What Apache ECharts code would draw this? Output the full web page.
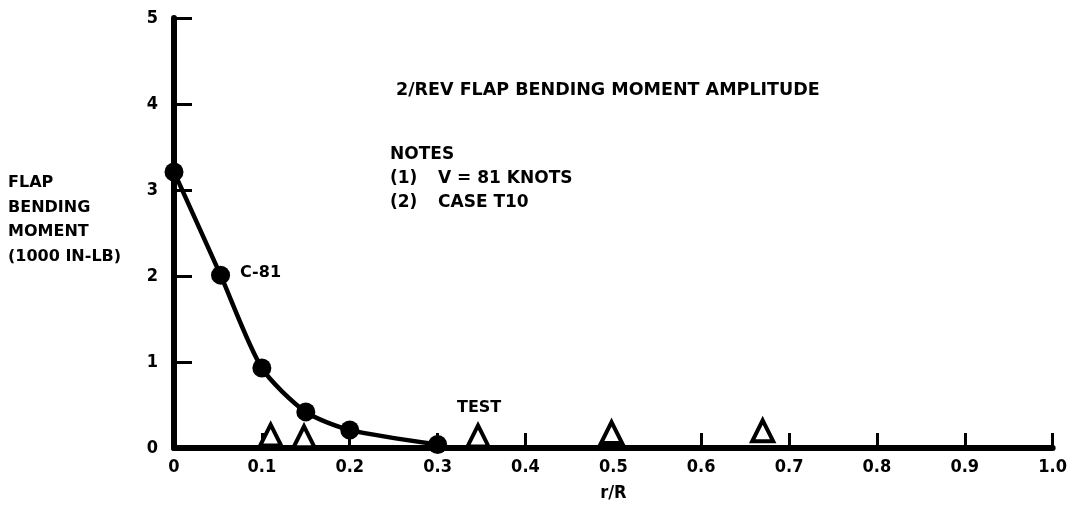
<!DOCTYPE html>
<html><head><meta charset="utf-8">
<script src="https://cdn.jsdelivr.net/npm/echarts@6/dist/echarts.min.js"></script>
<style>html,body{margin:0;padding:0;background:#fff}#c{width:1070px;height:511px}</style>
</head><body><div id="c"></div>
<script>
var xTicks = [0, 0.1, 0.2, 0.3, 0.4, 0.5, 0.6, 0.7, 0.8, 0.9, 1.0];
var yTicks = [0, 1, 2, 3, 4, 5];
var c81X = [0, 0.053, 0.1, 0.15, 0.2, 0.3];
var c81Y = [3.21, 2.01, 0.93, 0.42, 0.21, 0.04];
var testX = [0.11, 0.148, 0.346, 0.498, 0.67];
var testY = [0.15, 0.13, 0.14, 0.18, 0.20];
var titleText = '2/REV FLAP BENDING MOMENT AMPLITUDE';
var noteNums = ['(1)', '(2)'];
var noteTexts = ['V = 81 KNOTS', 'CASE T10'];
var yName = ['FLAP', 'BENDING', 'MOMENT', '(1000 IN-LB)'];

var F = '"DejaVu Sans", "Liberation Sans", Arial, sans-serif';
var FN = '"DejaVu Sans Condensed", "DejaVu Sans", "Liberation Sans", sans-serif';
var chart = echarts.init(document.getElementById('c'));
function pairs(xs, ys){ return xs.map(function(x,i){ return [x, ys[i]]; }); }
var txt = function(x, y, s, size){
  return {type:'text', left:x, top:y, z:10, style:{text:s, font:'bold ' + (size||16) + 'px ' + F, fill:'#000'}};
};
var graphics = [txt(396, 81, titleText, 17.5)];
graphics.push(txt(390, 146, 'NOTES', 17));
noteNums.forEach(function(n,i){ graphics.push(txt(390, 170 + i*24, n, 17)); });
noteTexts.forEach(function(n,i){ graphics.push(txt(438, 170 + i*24, n, 17)); });
yName.forEach(function(n,i){ graphics.push(txt(8, 175 + i*24.5, n)); });
graphics.push(txt(240, 265, 'C-81'));
graphics.push(txt(457, 400, 'TEST'));

chart.setOption({
  animation:false,
  grid:{left:174, right:17, top:18, bottom:63},
  xAxis:{type:'value', min:0, max:1, interval:0.1,
    name:'r/R', nameLocation:'middle', nameGap:36,
    nameTextStyle:{fontSize:18, fontWeight:'bold', fontFamily:FN, color:'#000'},
    axisLine:{lineStyle:{color:'#000', width:6}},
    axisTick:{inside:true, length:15, lineStyle:{color:'#000', width:3}},
    axisLabel:{margin:10, fontSize:18, fontWeight:'bold', fontFamily:FN, color:'#000',
      formatter:function(v){ if (v===0) return '0'; return v.toFixed(1); }},
    splitLine:{show:false}},
  yAxis:{type:'value', min:0, max:5, interval:1,
    axisLine:{show:true, lineStyle:{color:'#000', width:6}},
    axisTick:{show:true, inside:true, length:18, lineStyle:{color:'#000', width:3}},
    axisLabel:{margin:16, fontSize:18, fontWeight:'bold', fontFamily:FN, color:'#000'},
    splitLine:{show:false}},
  graphic:graphics,
  series:[
    {type:'line', data:pairs(c81X, c81Y), smooth:0.25, symbol:'circle', symbolSize:19,
      lineStyle:{color:'#000', width:4.5}, itemStyle:{color:'#000'}, z:3},
    {type:'scatter', data:pairs(testX, testY), symbol:'triangle', symbolSize:[21,21],
      itemStyle:{color:'#fff', borderColor:'#000', borderWidth:4, opacity:1}, z:4}
  ]
});
</script></body></html>
